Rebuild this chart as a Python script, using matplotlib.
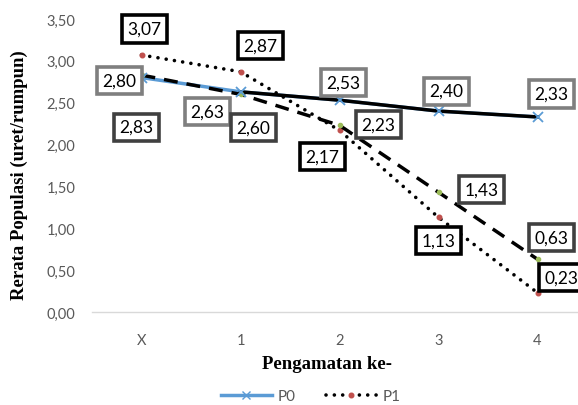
import matplotlib.pyplot as plt
import numpy as np

categories = ["X", "1", "2", "3", "4"]
p0 = [2.80, 2.63, 2.53, 2.40, 2.33]
p1 = [3.07, 2.87, 2.17, 1.13, 0.23]
p2 = [2.83, 2.60, 2.23, 1.43, 0.63]
p3 = [np.nan, 2.63, 2.53, 2.40, 2.33]

# label offsets in pixels (dx, dy)
off_p0 = [(-22, -3), (-33, -20), (4, 18), (8, 20), (14, 23)]
off_p1 = [(3, 26), (20, 26), (-17, -26), (0, -23), (24, 15)]
off_p2 = [(-5, -52), (13, -33), (39, 1), (43, 3), (14, 22)]

fig = plt.figure(figsize=(5.78, 4.06), dpi=100)
ax = fig.add_axes([92 / 578, 93 / 406, 495 / 578, 293 / 406])

x = np.arange(len(categories))
ax.plot(x, p0, color="#5b9bd5", lw=2.5, label="P0", zorder=2)
ax.plot(x, p3, color="black", lw=2.5, zorder=3)
ax.plot(x, p0, ls="none", marker="x", ms=7, mew=1.3, color="#5b9bd5", zorder=5)
ax.plot(x, p1, color="black", lw=2.6, ls=(0, (0.01, 2.3)), dash_capstyle="round",
        marker="o", ms=3.3, mfc="#c0504d", mec="#c0504d", label="P1", zorder=4)
ax.plot(x, p2, color="black", lw=2.5, ls=(0, (4, 2.6)),
        marker="o", ms=3, mfc="#9bbb59", mec="#9bbb59", zorder=4)

def labels(vals, offs, edge):
    for i, (v, o) in enumerate(zip(vals, offs)):
        ax.annotate(f"{v:.2f}".replace(".", ","), (i, v), xytext=o,
                    textcoords="offset pixels", ha="center", va="center",
                    fontsize=12.5, fontfamily="Lato", zorder=6,
                    bbox=dict(boxstyle="square,pad=0.32", fc="white", ec=edge, lw=2.6))

labels(p0, off_p0, "#7f7f7f")
labels(p1, off_p1, "black")
labels(p2, off_p2, "#404040")

ax.set_xlim(-0.5, 4.5)
ax.set_ylim(0, 3.5)
ax.set_xticks(x)
ax.set_xticklabels(categories)
yt = np.arange(0, 3.51, 0.5)
ax.set_yticks(yt)
ax.set_yticklabels([f"{t:.2f}".replace(".", ",") for t in yt])
ax.tick_params(length=0, labelsize=10.5, labelcolor="#595959")
ax.tick_params(axis="x", pad=15)
ax.tick_params(axis="y", pad=12)
for lab in ax.get_xticklabels() + ax.get_yticklabels():
    lab.set_fontfamily("Lato")
for s in ["top", "right", "left"]:
    ax.spines[s].set_visible(False)
ax.spines["bottom"].set_color("#d9d9d9")
ax.spines["bottom"].set_linewidth(1)

ax.set_ylabel("Rerata Populasi (uret/rumpun)", fontfamily="Liberation Serif",
              fontweight="bold", fontsize=13.5, va="center", ha="center")
ax.yaxis.set_label_coords(-0.147, 0.471)
ax.set_xlabel("Pengamatan ke-", fontfamily="Liberation Serif",
              fontweight="bold", fontsize=13.5, va="center", ha="center")
ax.xaxis.set_label_coords(0.475, -0.175)

leg = fig.legend(handles=[ax.get_lines()[0], ax.get_lines()[3]], labels=["P0", "P1"],
                 loc="center", bbox_to_anchor=(311 / 578, 1 - 397 / 406), ncol=2,
                 frameon=False, prop={"family": "Lato", "size": 11}, handlelength=3.3,
                 handletextpad=0.4, columnspacing=2.0)
for t in leg.get_texts():
    t.set_color("#595959")
leg.legend_handles[0].set_marker("x")
leg.legend_handles[0].set_markeredgecolor("#5b9bd5")

fig.savefig("out.png", dpi=100)
